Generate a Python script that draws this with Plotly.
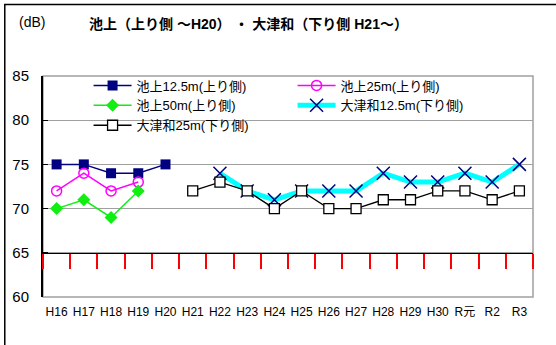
import plotly.graph_objects as go

categories = ["H16", "H17", "H18", "H19", "H20", "H21", "H22", "H23", "H24",
              "H25", "H26", "H27", "H28", "H29", "H30", "R元", "R2", "R3"]
ikegami_125 = [75, 75, 74, 74, 75] + [None] * 13
ikegami_25 = [72, 74, 72, 73] + [None] * 14
ikegami_50 = [70, 71, 69, 72] + [None] * 14
otsuwa_125 = [None] * 6 + [74, 72, 71, 72, 72, 72, 74, 73, 73, 74, 73, 75]
otsuwa_25 = [None] * 5 + [72, 73, 72, 70, 72, 70, 70, 71, 71, 72, 72, 71, 72]
y_ticks = [60, 65, 70, 75, 80, 85]

FONT = "Liberation Sans, Arial, Noto Sans CJK JP, sans-serif"

fig = go.Figure()
fig.add_trace(go.Scatter(x=categories, y=ikegami_125, name="池上12.5m(上り側)", mode="lines+markers",
                         line=dict(color="#000080", width=1.5),
                         marker=dict(symbol="square", size=10, color="#000080")))
fig.add_trace(go.Scatter(x=categories, y=ikegami_25, name="池上25m(上り側)", mode="lines+markers",
                         line=dict(color="#FF00FF", width=1.5),
                         marker=dict(symbol="circle-open", size=10, color="#FF00FF", line=dict(width=1.5))))
fig.add_trace(go.Scatter(x=categories, y=ikegami_50, name="池上50m(上り側)", mode="lines+markers",
                         line=dict(color="#11EE11", width=1.5),
                         marker=dict(symbol="diamond", size=10, color="#11EE11")))
fig.add_trace(go.Scatter(x=categories, y=otsuwa_125, name="大津和12.5m(下り側)", mode="lines+markers",
                         line=dict(color="#00FFFF", width=5),
                         marker=dict(symbol="x-thin", size=13, color="#000080",
                                     line=dict(color="#000080", width=1.5))))
fig.add_trace(go.Scatter(x=categories, y=otsuwa_25, name="大津和25m(下り側)", mode="lines+markers",
                         line=dict(color="#000000", width=1.3),
                         marker=dict(symbol="square", size=10, color="#FFFFFF",
                                     line=dict(color="#000000", width=1.3))))
# empty helper subplot whose bottom axis sits at the 65 dB level
fig.add_trace(go.Scatter(x=[], y=[], xaxis="x2", yaxis="y2", showlegend=False, hoverinfo="skip"))

fig.update_layout(
    width=556, height=345,
    margin=dict(l=43, r=23, t=76, b=48),
    paper_bgcolor="white", plot_bgcolor="rgba(0,0,0,0)",
    font=dict(family=FONT, color="black"),
    showlegend=True,
    legend=dict(orientation="h", x=0.093, y=1.025, xanchor="left", yanchor="top",
                bgcolor="rgba(0,0,0,0)", font=dict(size=13, family=FONT),
                itemwidth=38, entrywidth=151, tracegroupgap=0),
    xaxis=dict(type="category", categoryarray=categories, categoryorder="array",
               range=[-0.5, 17.5], showgrid=False, showline=False, ticks="",
               ticklabelstandoff=6,
               tickfont=dict(size=12, family=FONT), zeroline=False),
    xaxis2=dict(type="linear", domain=[0, 1], anchor="y2", side="bottom",
                range=[-0.5, 17.5], tickmode="linear", tick0=-0.5, dtick=1,
                ticks="outside", ticklen=15, tickwidth=2, tickcolor="red",
                showline=True, linecolor="black", linewidth=1, showgrid=False,
                showticklabels=False, zeroline=False),
    yaxis2=dict(domain=[0.2, 1], anchor="x2", range=[0, 1], visible=False),
    yaxis=dict(range=[60, 85], tickvals=y_ticks, showgrid=True, gridcolor="#A0A0A0",
               gridwidth=1, showline=True, linecolor="black", linewidth=2,
               ticks="inside", ticklen=5, tickcolor="black", ticklabelstandoff=9,
               tickfont=dict(size=15, family=FONT), zeroline=False),
    shapes=[
        dict(type="rect", xref="paper", yref="paper", x0=0, x1=1, y0=0, y1=1,
             line=dict(color="#A0A0A0", width=1.5), layer="below"),
        dict(type="rect", xref="paper", yref="paper", x0=-0.078, x1=1.06, y0=-0.3, y1=1.323,
             line=dict(color="black", width=1.5), layer="above"),
    ],
    annotations=[
        dict(text="(dB)", xref="paper", yref="paper", x=-0.054, y=1.245, xanchor="left",
             yanchor="middle", showarrow=False, font=dict(size=14, family=FONT)),
        dict(text="<b>池上（上り側 ～H20） ・ 大津和（下り側 H21～）</b>", xref="paper", yref="paper",
             x=0.09, y=1.237, xanchor="left", yanchor="middle", showarrow=False,
             font=dict(size=14, family=FONT)),
    ],
)

fig.write_html("out.html")
